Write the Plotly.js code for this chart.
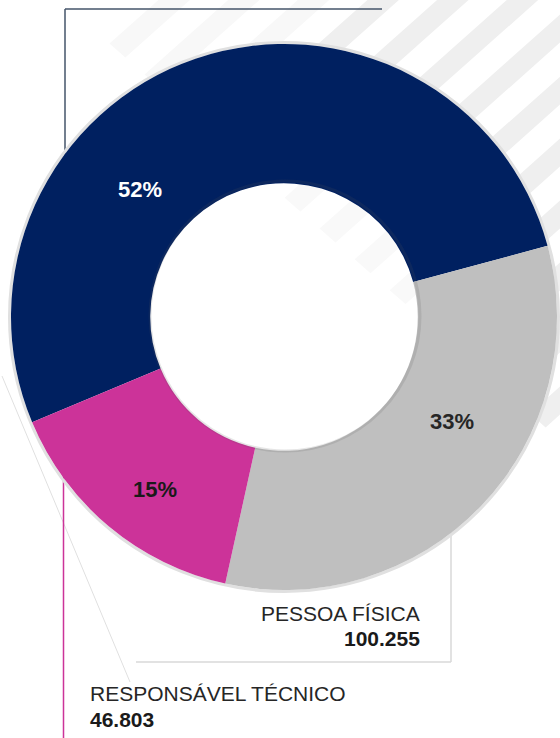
<!DOCTYPE html>
<html>
<head>
<meta charset="utf-8">
<script src="https://cdn.plot.ly/plotly-3.0.1.min.js"></script>
<style>
  html, body { margin: 0; padding: 0; background: #ffffff; }
  #chart { width: 560px; height: 738px; }
</style>
</head>
<body>
<div id="chart"></div>
<script>
// ---- data ----
const categories = ['PESSOA JURÍDICA', 'PESSOA FÍSICA', 'RESPONSÁVEL TÉCNICO'];
const values = [160000, 100255, 46803];
const sliceColors = ['#002060', '#BFBFBF', '#CC3399'];
const shownLabels = ['', 'PESSOA FÍSICA', 'RESPONSÁVEL TÉCNICO'];

// ---- helpers ----
const W = 560, H = 738;
const px = x => x / W;
const py = y => 1 - y / H;
const fmt = v => String(v).replace(/\B(?=(\d{3})+(?!\d))/g, '.');
const total = values.reduce((a, b) => a + b, 0);
const pct = values.map(v => Math.round(v / total * 100) + '%');

// donut geometry (pixels)
const cx = 284, cy = 317, R = 273, r0 = 134;

const pie = {
  type: 'pie',
  labels: categories,
  values: values,
  sort: false,
  direction: 'clockwise',
  rotation: 247.3,
  hole: 0.49,
  textinfo: 'none',
  hoverinfo: 'none',
  showlegend: false,
  marker: { colors: sliceColors, line: { width: 0 } },
  domain: { x: [px(cx - R), px(cx + R)], y: [py(cy + R), py(cy - R)] }
};

// ---- decorative background stripes ----
const shapes = [];
const k = 0.89, m = 0.88, w = 28;
for (let n = -3; n <= 9; n++) {
  const c1 = 327 + 62 * n, c2 = c1 + w;
  const xi1 = (c1 + 60 * m) / (k + m), xi2 = (c2 + 60 * m) / (k + m);
  const pts = [[xi1, c1 - k * xi1], [700, c1 - k * 700], [700, c2 - k * 700], [xi2, c2 - k * xi2]];
  const path = 'M' + pts.map(p => px(p[0]).toFixed(4) + ',' + py(p[1]).toFixed(4)).join(' L') + ' Z';
  shapes.push({ type: 'path', xref: 'paper', yref: 'paper', path: path,
    fillcolor: c1 < 300 ? '#f8f8f8' : '#efefef', line: { width: 0 }, layer: 'below' });
}
// soften the stripes seen through the hole
shapes.push({ type: 'circle', xref: 'paper', yref: 'paper',
  x0: px(cx - r0), x1: px(cx + r0), y0: py(cy + r0), y1: py(cy - r0),
  fillcolor: 'rgba(255,255,255,0.6)', line: { width: 0 }, layer: 'below' });
// faint diagonal line at left
shapes.push({ type: 'line', xref: 'paper', yref: 'paper', x0: px(2), y0: py(376), x1: px(130), y1: py(682),
  line: { color: '#e0e0e0', width: 1 }, layer: 'below' });
// top bracket lines
shapes.push({ type: 'line', xref: 'paper', yref: 'paper', x0: px(65), y0: py(9), x1: px(382), y1: py(9),
  line: { color: '#44546A', width: 1.5 }, layer: 'below' });
shapes.push({ type: 'line', xref: 'paper', yref: 'paper', x0: px(65), y0: py(9), x1: px(65), y1: py(300),
  line: { color: '#44546A', width: 1.5 }, layer: 'below' });
// pink line
shapes.push({ type: 'line', xref: 'paper', yref: 'paper', x0: px(63.5), y0: py(420), x1: px(63.5), y1: py(740),
  line: { color: '#CC3399', width: 1.5 }, layer: 'below' });
// gray box lines
shapes.push({ type: 'line', xref: 'paper', yref: 'paper', x0: px(451), y0: py(480), x1: px(451), y1: py(662),
  line: { color: '#D9D9D9', width: 1.5 }, layer: 'below' });
shapes.push({ type: 'line', xref: 'paper', yref: 'paper', x0: px(136), y0: py(662), x1: px(451), y1: py(662),
  line: { color: '#D9D9D9', width: 1.5 }, layer: 'below' });
// outer halo
shapes.push({ type: 'circle', xref: 'paper', yref: 'paper',
  x0: px(cx - R - 1.5), x1: px(cx + R + 1.5), y0: py(cy + R + 1.5), y1: py(cy - R - 1.5),
  line: { color: '#e0e0e0', width: 3 }, layer: 'below' });
// inner hole shadow
const rs = 135;
shapes.push({ type: 'circle', xref: 'paper', yref: 'paper',
  x0: px(cx - rs + 1), x1: px(cx + rs + 1), y0: py(cy + rs - 1), y1: py(cy - rs - 1),
  line: { color: 'rgba(90,90,90,0.15)', width: 3 }, layer: 'above' });

// ---- text ----
const F = 'Liberation Sans, Arial, sans-serif';
function ann(text, x, y, size, color, xanchor, bold) {
  return { xref: 'paper', yref: 'paper', x: px(x), y: py(y), xanchor: xanchor, yanchor: 'middle',
    showarrow: false, text: bold ? '<b>' + text + '</b>' : text,
    font: { family: F, size: size, color: color } };
}
const annotations = [
  ann(pct[0], 140, 190, 22, '#ffffff', 'center', true),
  ann(pct[1], 452, 421, 22, '#262626', 'center', true),
  ann(pct[2], 155, 490, 22, '#1a1a1a', 'center', true),
  ann(shownLabels[1], 422, 613, 21, '#262626', 'right', false),
  ann(fmt(values[1]), 422, 638, 21, '#1a1a1a', 'right', true),
  ann(shownLabels[2], 88, 693, 21, '#262626', 'left', false),
  ann(fmt(values[2]), 88, 719, 21, '#1a1a1a', 'left', true)
];

const layout = {
  width: W, height: H,
  margin: { l: 0, r: 0, t: 0, b: 0, pad: 0 },
  paper_bgcolor: '#ffffff',
  plot_bgcolor: '#ffffff',
  showlegend: false,
  shapes: shapes,
  annotations: annotations
};

Plotly.newPlot('chart', [pie], layout, { staticPlot: true, displayModeBar: false });
</script>
</body>
</html>
